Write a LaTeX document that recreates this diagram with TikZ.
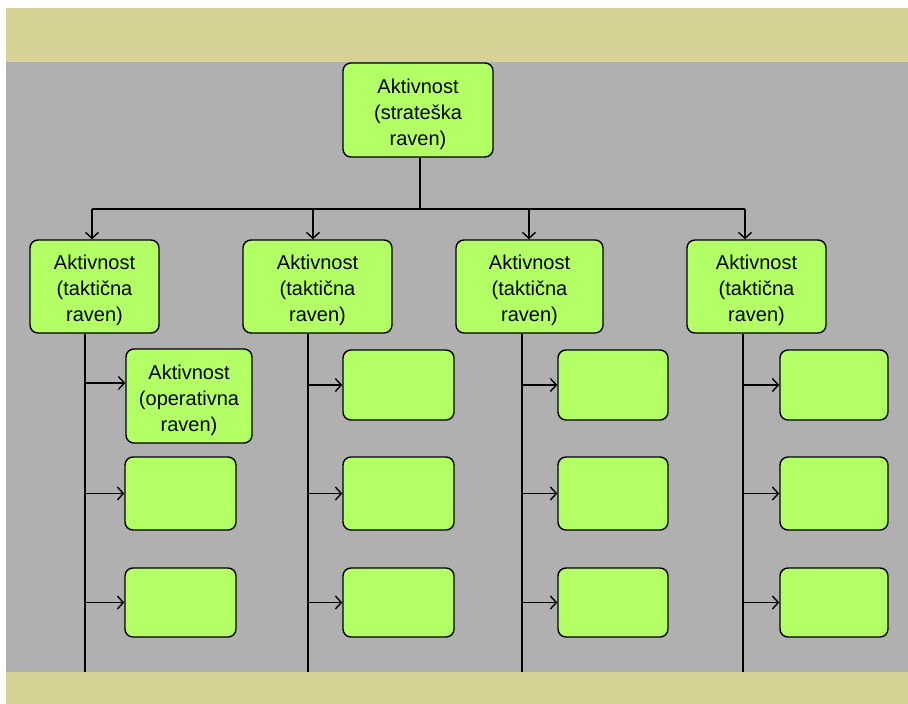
\documentclass[tikz,border=0pt]{standalone}
\usepackage{fontspec}
\setmainfont{Liberation Sans}
\usetikzlibrary{arrows.meta}
\definecolor{bandtan}{RGB}{214,210,150}
\definecolor{panelgray}{RGB}{176,176,176}
\definecolor{boxgreen}{RGB}{179,255,102}
\begin{document}
\begin{tikzpicture}[x=1pt, y=-1pt, >={Straight Barb[length=6pt,width=13pt]},
  box/.style={draw=black, line width=1.4pt, fill=boxgreen, rounded corners=8pt,
    inner sep=0pt, align=center, font=\fontsize{20}{26}\selectfont},
  textbox/.style={box, execute at begin node={\rule{0pt}{75pt}}},
  link/.style={line width=1.4pt}]
  \useasboundingbox (0,0) rectangle (908,704);
  \fill[white] (0,0) rectangle (908,704);
  \fill[bandtan] (6,8) rectangle (908,62);
  \fill[panelgray] (6,62) rectangle (908,672);
  \fill[bandtan] (6,672) rectangle (908,704);

  \node[textbox, minimum width=150, minimum height=94] (s) at (418,110) {Aktivnost\\(strateška\\raven)};

  \node[textbox, minimum width=129, minimum height=93] (t1) at (94.5,286.5) {Aktivnost\\(taktična\\raven)};
  \node[textbox, minimum width=149, minimum height=93] (t2) at (317.5,286.5) {Aktivnost\\(taktična\\raven)};
  \node[textbox, minimum width=147, minimum height=93] (t3) at (529.5,286.5) {Aktivnost\\(taktična\\raven)};
  \node[textbox, minimum width=139, minimum height=93] (t4) at (756.5,286.5) {Aktivnost\\(taktična\\raven)};

  \node[textbox, minimum width=126, minimum height=94] (o11) at (189,396) {Aktivnost\\(operativna\\raven)};
  \node[box, minimum width=111, minimum height=73] (o12) at (180.5,493.5) {};
  \node[box, minimum width=111, minimum height=69] (o13) at (180.5,602.5) {};
  \node[box, minimum width=111, minimum height=70] (o21) at (398.5,385) {};
  \node[box, minimum width=111, minimum height=73] (o22) at (398.5,493.5) {};
  \node[box, minimum width=111, minimum height=69] (o23) at (398.5,602.5) {};
  \node[box, minimum width=110, minimum height=70] (o31) at (613,385) {};
  \node[box, minimum width=110, minimum height=73] (o32) at (613,493.5) {};
  \node[box, minimum width=110, minimum height=69] (o33) at (613,602.5) {};
  \node[box, minimum width=108, minimum height=70] (o41) at (834,385) {};
  \node[box, minimum width=108, minimum height=73] (o42) at (834,493.5) {};
  \node[box, minimum width=108, minimum height=69] (o43) at (834,602.5) {};

  % strategic level to tactical level
  \coordinate (hub) at (420,209);
  \coordinate (b1) at (92,209);
  \coordinate (b2) at (313,209);
  \coordinate (b3) at (529,209);
  \coordinate (b4) at (745,209);
  \draw[link] (s.south -| hub) -- (hub);
  \draw[link] (b1) -- (b4);
  \draw[link,->] (b1) -- (b1 |- t1.north);
  \draw[link,->] (b2) -- (b2 |- t2.north);
  \draw[link,->] (b3) -- (b3 |- t3.north);
  \draw[link,->] (b4) -- (b4 |- t4.north);

  % tactical level to operational level
  \coordinate (e1) at (85,672);
  \coordinate (e2) at (308,672);
  \coordinate (e3) at (522,672);
  \coordinate (e4) at (743,672);
  \draw[link] (t1.south -| e1) -- (e1);
  \draw[link] (t2.south -| e2) -- (e2);
  \draw[link] (t3.south -| e3) -- (e3);
  \draw[link] (t4.south -| e4) -- (e4);

  \draw[link,->] ([yshift=13pt]o11.west -| e1) -- ([yshift=13pt]o11.west);
  \draw[link,->] (o12.west -| e1) -- (o12.west);
  \draw[link,->] (o13.west -| e1) -- (o13.west);
  \draw[link,->] (o21.west -| e2) -- (o21.west);
  \draw[link,->] (o22.west -| e2) -- (o22.west);
  \draw[link,->] (o23.west -| e2) -- (o23.west);
  \draw[link,->] (o31.west -| e3) -- (o31.west);
  \draw[link,->] (o32.west -| e3) -- (o32.west);
  \draw[link,->] (o33.west -| e3) -- (o33.west);
  \draw[link,->] (o41.west -| e4) -- (o41.west);
  \draw[link,->] (o42.west -| e4) -- (o42.west);
  \draw[link,->] (o43.west -| e4) -- (o43.west);
\end{tikzpicture}
\end{document}
